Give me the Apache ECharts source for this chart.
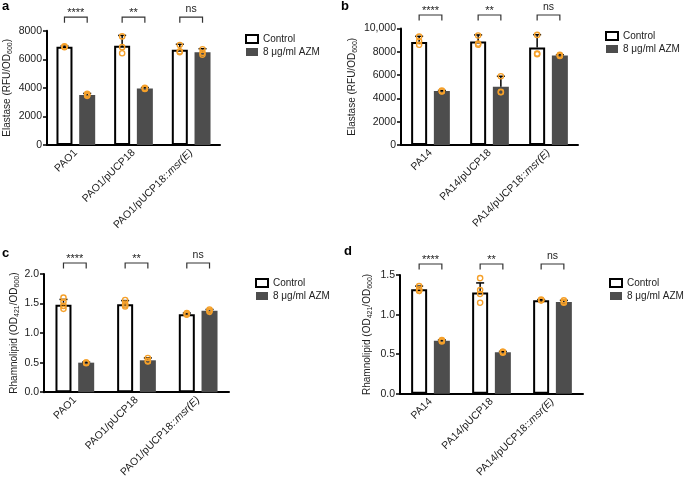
<!DOCTYPE html>
<html><head><meta charset="utf-8">
<script src="https://cdn.jsdelivr.net/npm/echarts@6/dist/echarts.min.js"></script>
<style>html,body{margin:0;padding:0;background:#fff}#c{width:685px;height:480px}</style>
</head><body><div id="c"></div>
<script>
// ---------- DATA ----------
const legendNames = ['Control', '8 μg/ml AZM'];

const aCats = ['PAO1', 'PAO1/pUCP18', 'PAO1/pUCP18::msr(E)'];
const aCtrl = [6870, 6950, 6670];
const aAzm = [3500, 3960, 6490];
const aCtrlErr = [60, 720, 380];
const aAzmErr = [110, 60, 250];
const aCtrlPts = [[6900, 6880, 6840], [7600, 6850, 6420], [7000, 6550, 6500]];
const aAzmPts = [[3580, 3480, 3440], [4000, 3950, 3920], [6700, 6450, 6320]];
const aSig = ['****', '**', 'ns'];
const aTicks = ['0', '2000', '4000', '6000', '8000'];

const bCats = ['PA14', 'PA14/pUCP18', 'PA14/pUCP18::msr(E)'];
const bCtrl = [8850, 8890, 8370];
const bAzm = [4630, 5000, 7690];
const bCtrlErr = [480, 560, 1100];
const bAzmErr = [50, 900, 60];
const bCtrlPts = [[9300, 8900, 8600], [9400, 8700, 8600], [9450, 7850, 7800]];
const bAzmPts = [[4680, 4620, 4600], [5900, 4560, 4530], [7740, 7680, 7650]];
const bSig = ['****', '**', 'ns'];
const bTicks = ['0', '2000', '4000', '6000', '8000', '10,000'];

const cCats = ['PAO1', 'PAO1/pUCP18', 'PAO1/pUCP18::msr(E)'];
const cCtrl = [1.48, 1.49, 1.32];
const cAzm = [0.50, 0.54, 1.38];
const cCtrlErr = [0.09, 0.06, 0.02];
const cAzmErr = [0.01, 0.04, 0.02];
const cCtrlPts = [[1.60, 1.53, 1.46, 1.41], [1.56, 1.50, 1.47, 1.45], [1.34, 1.32, 1.31]];
const cAzmPts = [[0.50, 0.50, 0.49], [0.58, 0.53, 0.52], [1.40, 1.38, 1.36]];
const cSig = ['****', '**', 'ns'];
const cTicks = ['0.0', '0.5', '1.0', '1.5', '2.0'];

const dCats = ['PA14', 'PA14/pUCP18', 'PA14/pUCP18::msr(E)'];
const dCtrl = [1.32, 1.28, 1.18];
const dAzm = [0.67, 0.525, 1.16];
const dCtrlErr = [0.04, 0.12, 0.01];
const dAzmErr = [0.01, 0.01, 0.02];
const dCtrlPts = [[1.36, 1.32, 1.30, 1.30], [1.46, 1.31, 1.26, 1.15], [1.19, 1.18, 1.18]];
const dAzmPts = [[0.68, 0.67, 0.66], [0.53, 0.53, 0.52], [1.18, 1.16, 1.15]];
const dSig = ['****', '**', 'ns'];
const dTicks = ['0.0', '0.5', '1.0', '1.5'];

// ---------- STYLE / LAYOUT ----------
const FONT = '"Liberation Sans", Arial, Helvetica, sans-serif';
const ORANGE = '#F5A02A';
const DARK = '#4D4D4D';
const TXT = '#222';
const BAR_W = 16, BAR_GAP = 0.42;
const OFF = BAR_W * (1 + BAR_GAP) / 2;

const panels = [
  {cats:aCats, ctrl:aCtrl, azm:aAzm, ctrlErr:aCtrlErr, azmErr:aAzmErr, ctrlPts:aCtrlPts, azmPts:aAzmPts,
   sig:aSig, ticks:aTicks, min:0, max:8000, interval:2000,
   name:'Elastase (RFU/OD{s|600})', nameGap:33,
   grid:{left:44, top:30.7, width:176, height:114.3}, legend:{left:245, top:34}, up:13.5, letter:['a', 2, 0]},
  {cats:bCats, ctrl:bCtrl, azm:bAzm, ctrlErr:bCtrlErr, azmErr:bAzmErr, ctrlPts:bCtrlPts, azmPts:bAzmPts,
   sig:bSig, ticks:bTicks, min:0, max:10000, interval:2000,
   name:'Elastase (RFU/OD{s|600})', nameGap:42,
   grid:{left:401, top:28.5, width:177, height:116.5}, legend:{left:605, top:31}, up:13.5, letter:['b', 341, 0]},
  {cats:cCats, ctrl:cCtrl, azm:cAzm, ctrlErr:cCtrlErr, azmErr:cAzmErr, ctrlPts:cCtrlPts, azmPts:cAzmPts,
   sig:cSig, ticks:cTicks, min:0, max:2, interval:0.5,
   name:'Rhamnolipid (OD{s|421}/OD{s|600})', nameGap:23,
   grid:{left:44, top:274, width:185, height:121}, legend:{left:255, top:278}, up:11, letter:['c', 2, 247]},
  {cats:dCats, ctrl:dCtrl, azm:dAzm, ctrlErr:dCtrlErr, azmErr:dAzmErr, ctrlPts:dCtrlPts, azmPts:dAzmPts,
   sig:dSig, ticks:dTicks, min:0, max:1.5, interval:0.5,
   name:'Rhamnolipid (OD{s|421}/OD{s|600})', nameGap:26,
   grid:{left:400, top:275, width:183, height:120}, legend:{left:609, top:278}, up:11, letter:['d', 344, 245]}
];

const grids = [], xAxes = [], yAxes = [], series = [], legends = [], graphics = [];

panels.forEach((p, k) => {
  grids.push(Object.assign({containLabel:false}, p.grid));
  xAxes.push({
    type:'category', gridIndex:k, data:p.cats,
    axisLine:{lineStyle:{color:'#000', width:2}},
    axisTick:{alignWithLabel:true, length:5, lineStyle:{color:'#000', width:1.5}},
    axisLabel:{rotate:45, margin:6, fontSize:10.5, color:TXT, fontFamily:FONT,
      formatter:v => v.replace('msr(E)', '{i|msr(E)}'),
      rich:{i:{fontStyle:'italic', fontSize:10.5, color:TXT, fontFamily:FONT}}}
  });
  yAxes.push({
    type:'value', gridIndex:k, min:p.min, max:p.max, interval:p.interval,
    splitLine:{show:false},
    axisLine:{show:true, lineStyle:{color:'#000', width:2}},
    axisTick:{show:true, length:4, lineStyle:{color:'#000', width:1.5}},
    axisLabel:{margin:5, fontSize:10.5, color:TXT, fontFamily:FONT,
      formatter:v => p.ticks[Math.round((v - p.min) / p.interval)]},
    name:p.name, nameLocation:'middle', nameGap:p.nameGap,
    nameTextStyle:{fontSize:10, color:TXT, fontFamily:FONT, lineHeight:13,
      rich:{s:{fontSize:7, color:TXT, fontFamily:FONT, verticalAlign:'bottom', lineHeight:9}}}
  });
  series.push({
    name:legendNames[0], type:'bar', xAxisIndex:k, yAxisIndex:k, data:p.ctrl,
    barWidth:BAR_W, barGap:(BAR_GAP*100)+'%',
    itemStyle:{color:'#fff', borderColor:'#000', borderWidth:2}, z:2
  });
  series.push({
    name:legendNames[1], type:'bar', xAxisIndex:k, yAxisIndex:k, data:p.azm,
    barWidth:BAR_W, barGap:(BAR_GAP*100)+'%',
    itemStyle:{color:DARK}, z:2
  });
  // error bars (upper only)
  [[p.ctrl, p.ctrlErr, -1], [p.azm, p.azmErr, 1]].forEach(([m, e, sgn]) => {
    series.push({
      type:'custom', xAxisIndex:k, yAxisIndex:k, z:4, clip:false, silent:true,
      data:m.map((v, i) => [i, v, v + e[i]]),
      renderItem:(params, api) => {
        const a = api.coord([api.value(0), api.value(1)]);
        const b = api.coord([api.value(0), api.value(2)]);
        const x = a[0] + sgn * OFF;
        return {type:'group', children:[
          {type:'line', shape:{x1:x, y1:a[1], x2:x, y2:b[1]}, style:{stroke:'#000', lineWidth:1.5}},
          {type:'line', shape:{x1:x-4, y1:b[1], x2:x+4, y2:b[1]}, style:{stroke:'#000', lineWidth:1.5}}
        ]};
      }
    });
  });
  // individual points
  [[p.ctrlPts, -1], [p.azmPts, 1]].forEach(([pts, sgn]) => {
    const flat = [];
    pts.forEach((arr, i) => arr.forEach(v => flat.push([i, v])));
    series.push({
      type:'custom', xAxisIndex:k, yAxisIndex:k, z:5, clip:false, silent:true,
      data:flat,
      renderItem:(params, api) => {
        const c = api.coord([api.value(0), api.value(1)]);
        return {type:'circle', shape:{cx:c[0] + sgn * OFF, cy:c[1], r:2.6},
          style:{fill:'rgba(0,0,0,0)', stroke:ORANGE, lineWidth:1.4}};
      }
    });
  });
  // significance brackets
  series.push({
    type:'custom', xAxisIndex:k, yAxisIndex:k, z:5, clip:false, silent:true,
    data:p.sig.map((s, i) => [i, p.max]),
    renderItem:(params, api) => {
      const c = api.coord([api.value(0), api.value(1)]);
      const y = c[1] - p.up, x1 = c[0] - OFF, x2 = c[0] + OFF;
      const s = p.sig[params.dataIndex];
      const isNs = s === 'ns';
      return {type:'group', children:[
        {type:'polyline', shape:{points:[[x1, y + 5.5], [x1, y], [x2, y], [x2, y + 5.5]]},
          style:{stroke:'#333', lineWidth:1.2, fill:null}},
        {type:'text', x:c[0], y:isNs ? y - 2.5 : y + 1.5,
          style:{text:s, font:(isNs ? '10.5px ' : '11px ') + FONT, fill:TXT,
            textAlign:'center', textVerticalAlign:'bottom'}}
      ]};
    }
  });
  legends.push({
    left:p.legend.left, top:p.legend.top, orient:'vertical', padding:0,
    data:legendNames, selectedMode:false, icon:'rect',
    itemWidth:12, itemHeight:8, itemGap:3,
    textStyle:{fontSize:10, color:TXT, fontFamily:FONT}
  });
  graphics.push({type:'text', left:p.letter[1], top:p.letter[2],
    style:{text:p.letter[0], font:'bold 13px ' + FONT, fill:'#000'}});
});

const chart = echarts.init(document.getElementById('c'));
chart.setOption({
  animation:false, backgroundColor:'#fff',
  grid:grids, xAxis:xAxes, yAxis:yAxes, series:series, legend:legends, graphic:graphics
});
</script></body></html>
